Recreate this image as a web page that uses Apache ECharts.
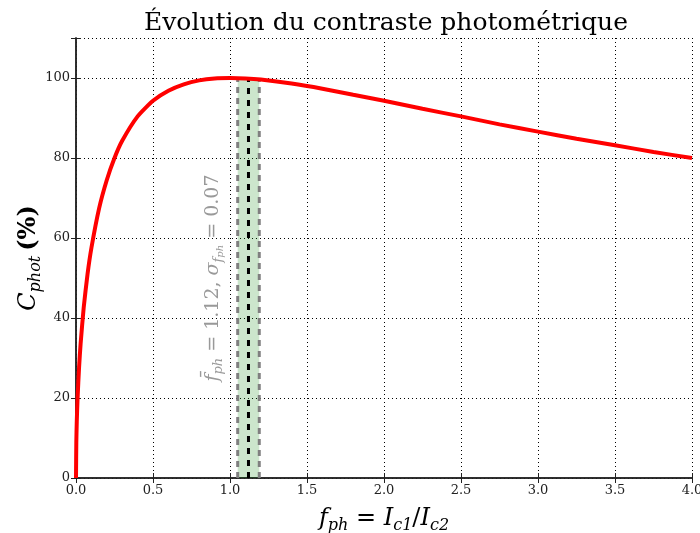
<!DOCTYPE html>
<html><head><meta charset="utf-8">
<script src="https://cdn.jsdelivr.net/npm/echarts@6/dist/echarts.min.js"></script>
<style>html,body{margin:0;padding:0;background:#fff}#c{width:700px;height:533px}</style>
</head><body><div id="c"></div>
<script>
const fPh   = [0, 0.002, 0.005, 0.01, 0.02, 0.03, 0.05, 0.075, 0.1, 0.15, 0.2, 0.25, 0.3, 0.4, 0.5, 0.6, 0.7, 0.8, 0.9, 1.0, 1.1, 1.2, 1.4, 1.6, 1.8, 2.0, 2.25, 2.5, 2.75, 3.0, 3.25, 3.5, 3.75, 4.0];
const cPhot = [0, 8.9, 14.1, 19.8, 27.7, 33.6, 42.6, 51.0, 57.5, 67.4, 74.5, 80.0, 84.3, 90.4, 94.3, 96.8, 98.4, 99.4, 99.9, 100, 99.9, 99.6, 98.6, 97.3, 95.8, 94.3, 92.3, 90.4, 88.4, 86.6, 84.8, 83.2, 81.5, 80.0];
const meanF = 1.12;
const sigmaF = 0.07;
const bandTop = 100;
const labelPos = [0.89, 50];

const serif = 'DejaVu Serif';
const curve = fPh.map((f, i) => [f, cPhot[i]]);

const gridLine = { show: true, lineStyle: { color: '#000', type: [1, 3], width: 1 } };
const axisLine = { show: true, lineStyle: { color: '#222', width: 1.5 } };
const tickIn = { show: true, inside: true, length: 5, lineStyle: { color: '#222', width: 1 } };
const tickLbl = { fontFamily: serif, fontSize: 13, color: '#222' };

const chart = echarts.init(document.getElementById('c'), null, { renderer: 'canvas' });
chart.setOption({
  animation: false,
  backgroundColor: '#fff',
  title: {
    text: 'Évolution du contraste photométrique',
    left: 381, top: 6, textAlign: 'center',
    textStyle: { fontFamily: serif, fontSize: 25, fontWeight: 'normal', color: '#000' }
  },
  grid: { left: 76, right: 8, top: 38, bottom: 55, outerBoundsMode: 'none', containLabel: false },
  xAxis: [{
    type: 'value', min: 0, max: 4, interval: 0.5,
    axisLine, axisTick: tickIn, splitLine: gridLine,
    axisLabel: Object.assign({ formatter: v => v.toFixed(1), margin: 6 }, tickLbl),
    name: '{i|f}{s|ph}{n| = }{i|I}{s|c1}{n|/}{i|I}{s|c2}',
    nameLocation: 'middle', nameGap: 26,
    nameTextStyle: {
      rich: {
        i: { fontFamily: serif, fontStyle: 'italic', fontSize: 24, lineHeight: 30, color: '#000' },
        n: { fontFamily: serif, fontSize: 24, lineHeight: 30, color: '#000' },
        s: { fontFamily: serif, fontStyle: 'italic', fontSize: 16, lineHeight: 16, verticalAlign: 'bottom', color: '#000' }
      }
    }
  }, {
    type: 'value', position: 'top', min: 0, max: 4, interval: 0.5,
    axisLine, axisTick: tickIn, splitLine: { show: false }, axisLabel: { show: false }
  }],
  yAxis: [{
    type: 'value', min: 0, max: 110, interval: 20,
    axisLine, axisTick: tickIn, splitLine: gridLine,
    axisLabel: Object.assign({ margin: 6, formatter: v => v > 100 ? '' : String(v) }, tickLbl),
    name: '{i|C}{s|phot}{b|(%)}',
    nameLocation: 'middle', nameGap: 32, nameMoveOverlap: false,
    nameTextStyle: {
      rich: {
        i: { fontFamily: serif, fontStyle: 'italic', fontSize: 24, lineHeight: 30, color: '#000' },
        b: { fontFamily: serif, fontWeight: 'bold', fontSize: 24, lineHeight: 30, color: '#000', padding: [0, 0, 0, 5] },
        s: { fontFamily: serif, fontStyle: 'italic', fontSize: 16, lineHeight: 16, verticalAlign: 'bottom', color: '#000' }
      }
    }
  }, {
    type: 'value', position: 'right', min: 0, max: 110, interval: 20,
    axisLine, axisTick: tickIn, splitLine: { show: false }, axisLabel: { show: false }
  }],
  series: [
    {
      type: 'line', data: [[meanF - sigmaF, 0], [meanF - sigmaF, bandTop]],
      symbol: 'none', silent: true, z: 3,
      lineStyle: { color: '#808080', width: 3, type: [6, 5] },
      markArea: {
        silent: true,
        itemStyle: { color: 'rgba(0,128,0,0.2)' },
        data: [[{ coord: [meanF - sigmaF, 0] }, { coord: [meanF + sigmaF, bandTop] }]]
      }
    },
    {
      type: 'line', data: [[meanF + sigmaF, 0], [meanF + sigmaF, bandTop]],
      symbol: 'none', silent: true, z: 3,
      lineStyle: { color: '#808080', width: 3, type: [6, 5] }
    },
    {
      type: 'line', data: [[meanF, 0], [meanF, bandTop]],
      symbol: 'none', silent: true, z: 4,
      lineStyle: { color: '#000', width: 3, type: [6, 6] }
    },
    {
      type: 'line', data: curve, symbol: 'none', smooth: 0.2, z: 5,
      lineStyle: { color: '#ff0000', width: 4 }
    },
    {
      type: 'scatter', data: [labelPos], symbolSize: 0, silent: true, z: 6,
      label: {
        show: true, position: 'inside', rotate: 90,
        formatter: '{i|f\u0304}{s|ph}{n| = 1.12, }{g|σ}{s|f}{t|ph}{n| = 0.07}',
        rich: {
          i: { fontFamily: serif, fontStyle: 'italic', fontSize: 19, lineHeight: 24, color: '#808080' },
          g: { fontFamily: serif, fontStyle: 'italic', fontSize: 19, lineHeight: 24, color: '#808080' },
          n: { fontFamily: serif, fontSize: 19, lineHeight: 24, color: '#808080' },
          s: { fontFamily: serif, fontStyle: 'italic', fontSize: 13, lineHeight: 14, verticalAlign: 'bottom', color: '#808080' },
          t: { fontFamily: serif, fontStyle: 'italic', fontSize: 10, lineHeight: 10, verticalAlign: 'bottom', color: '#808080' }
        }
      }
    }
  ]
});
</script>
</body></html>
